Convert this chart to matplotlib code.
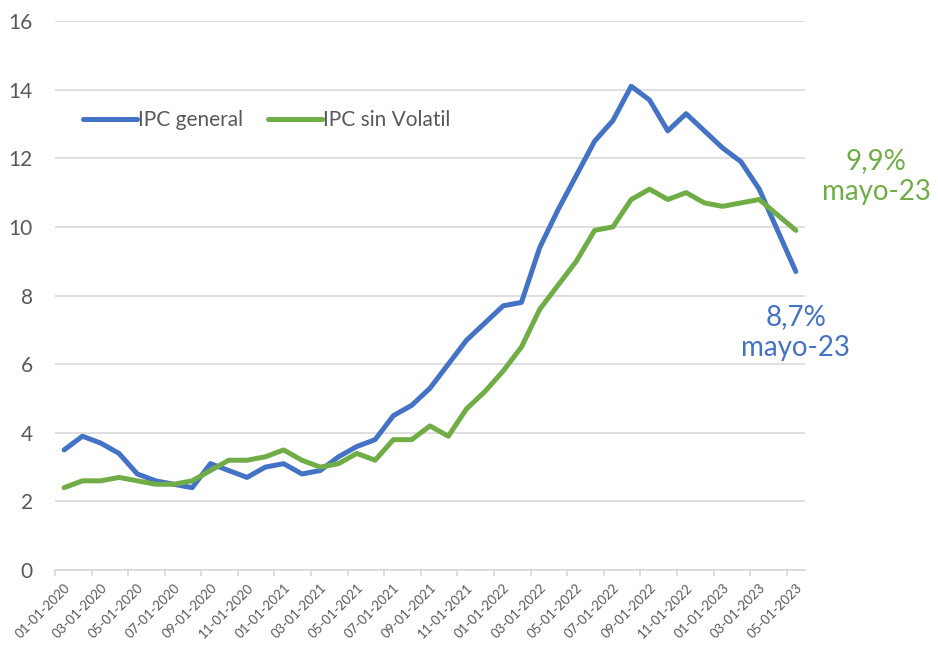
import matplotlib.pyplot as plt
import pandas as pd

# Meses: enero 2020 a mayo 2023
fechas = pd.date_range('2020-01-01', '2023-05-01', freq='MS')
etiquetas = [f.strftime('%m-%d-%Y') for f in fechas]

ipc_general = [3.5, 3.9, 3.7, 3.4, 2.8, 2.6, 2.5, 2.4, 3.1, 2.9, 2.7, 3.0,
               3.1, 2.8, 2.9, 3.3, 3.6, 3.8, 4.5, 4.8, 5.3, 6.0, 6.7, 7.2,
               7.7, 7.8, 9.4, 10.5, 11.5, 12.5, 13.1, 14.1, 13.7, 12.8, 13.3, 12.8,
               12.3, 11.9, 11.1, 9.9, 8.7]
ipc_sin_volatil = [2.4, 2.6, 2.6, 2.7, 2.6, 2.5, 2.5, 2.6, 2.9, 3.2, 3.2, 3.3,
                   3.5, 3.2, 3.0, 3.1, 3.4, 3.2, 3.8, 3.8, 4.2, 3.9, 4.7, 5.2,
                   5.8, 6.5, 7.6, 8.3, 9.0, 9.9, 10.0, 10.8, 11.1, 10.8, 11.0, 10.7,
                   10.6, 10.7, 10.8, 10.35, 9.9]

azul = '#4472C4'
verde = '#70AD47'
gris = '#595959'

plt.rcParams['font.family'] = ['Lato', 'DejaVu Sans']

fig = plt.figure(figsize=(9.38, 6.46), dpi=100)
ax = fig.add_axes([0.0586, 0.1176, 0.7996, 0.8498])

x = list(range(len(fechas)))
ax.plot(x, ipc_general, color=azul, lw=3.6, label='IPC general', solid_capstyle='round')
ax.plot(x, ipc_sin_volatil, color=verde, lw=3.6, label='IPC sin Volatil', solid_capstyle='round')

ax.set_xlim(-0.5, len(x) - 0.5)
ax.set_ylim(0, 16)
ax.set_yticks(range(0, 17, 2))
ax.grid(axis='y', color='#D9D9D9', lw=1.2)
ax.set_axisbelow(True)
for s in ['top', 'right', 'left']:
    ax.spines[s].set_visible(False)
ax.spines['bottom'].set_color('#D9D9D9')
ax.spines['bottom'].set_linewidth(1.2)

ax.tick_params(axis='y', length=0, labelsize=15, labelcolor=gris, pad=16)
ax.set_xticks(x[::2])
ax.set_xticklabels(etiquetas[::2], rotation=45, ha='right', rotation_mode='anchor',
                   fontsize=9.5, color=gris)
ax.tick_params(axis='x', which='major', length=0, pad=8)
ax.set_xticks([i - 0.5 for i in x[::2]], minor=True)
ax.tick_params(axis='x', which='minor', length=4, color='#D9D9D9', width=1.2)

ax.legend(loc='center left', bbox_to_anchor=(0.012, 0.82), ncol=2, frameon=False,
          fontsize=15, labelcolor=gris, handlelength=2.6, handletextpad=0.05,
          columnspacing=1.2)

ax.annotate('9,9%\nmayo-23', xy=(x[-1], ipc_sin_volatil[-1]), xytext=(58, 39),
            textcoords='offset points', ha='center', va='center', fontsize=20,
            color=verde, linespacing=1.25, annotation_clip=False)
ax.annotate('8,7%\nmayo-23', xy=(x[-1], ipc_general[-1]), xytext=(0, -44),
            textcoords='offset points', ha='center', va='center', fontsize=20,
            color=azul, linespacing=1.25, annotation_clip=False)

fig.savefig('out.png', dpi=100)
